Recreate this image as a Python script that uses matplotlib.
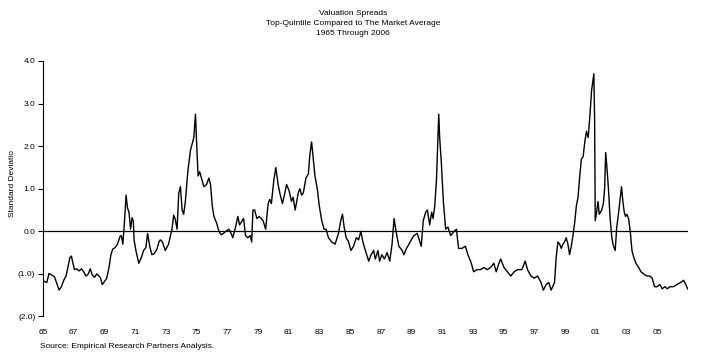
import matplotlib
matplotlib.use("Agg")
import matplotlib.pyplot as plt

# Valuation spread (standard deviations)
dates = [
    1965.00, 1965.10, 1965.25, 1965.39, 1965.55, 1965.75, 1965.92, 1966.05, 1966.20, 1966.35,
    1966.50, 1966.65, 1966.75, 1966.85, 1966.95, 1967.05, 1967.20, 1967.35, 1967.50, 1967.65,
    1967.80, 1967.95, 1968.08, 1968.20, 1968.35, 1968.50, 1968.65, 1968.75, 1968.86, 1969.00,
    1969.15, 1969.30, 1969.42, 1969.54, 1969.70, 1969.85, 1970.02, 1970.10, 1970.20, 1970.30,
    1970.41, 1970.50, 1970.60, 1970.70, 1970.80, 1970.88, 1970.93, 1971.05, 1971.24, 1971.40,
    1971.55, 1971.70, 1971.81, 1971.95, 1972.09, 1972.25, 1972.42, 1972.55, 1972.64, 1972.78,
    1972.96, 1973.18, 1973.30, 1973.40, 1973.51, 1973.60, 1973.73, 1973.84, 1973.95, 1974.06,
    1974.16, 1974.27, 1974.43, 1974.60, 1974.71, 1974.82, 1974.93, 1975.00, 1975.10, 1975.20,
    1975.36, 1975.47, 1975.65, 1975.80, 1975.91, 1976.02, 1976.13, 1976.30, 1976.46, 1976.60,
    1976.75, 1976.90, 1977.11, 1977.25, 1977.36, 1977.54, 1977.69, 1977.80, 1977.97, 1978.06,
    1978.19, 1978.34, 1978.50, 1978.59, 1978.67, 1978.78, 1978.93, 1979.07, 1979.22, 1979.33,
    1979.50, 1979.66, 1979.76, 1979.87, 1980.03, 1980.16, 1980.31, 1980.42, 1980.59, 1980.75,
    1980.86, 1981.03, 1981.18, 1981.29, 1981.42, 1981.62, 1981.73, 1981.84, 1981.95, 1982.12,
    1982.28, 1982.38, 1982.49, 1982.60, 1982.71, 1982.86, 1982.99, 1983.15, 1983.30, 1983.43,
    1983.59, 1983.80, 1984.02, 1984.24, 1984.39, 1984.50, 1984.61, 1984.74, 1984.90, 1985.05,
    1985.22, 1985.40, 1985.55, 1985.70, 1985.83, 1985.99, 1986.21, 1986.36, 1986.53, 1986.64,
    1986.81, 1986.92, 1987.07, 1987.23, 1987.41, 1987.58, 1987.73, 1987.86, 1987.99, 1988.17,
    1988.39, 1988.50, 1988.67, 1988.83, 1988.98, 1989.15, 1989.37, 1989.63, 1989.76, 1989.92,
    1990.03, 1990.18, 1990.31, 1990.40, 1990.51, 1990.62, 1990.68, 1990.77, 1990.83, 1990.94,
    1991.07, 1991.22, 1991.37, 1991.55, 1991.77, 1991.92, 1992.06, 1992.28, 1992.50, 1992.67,
    1992.89, 1993.04, 1993.26, 1993.48, 1993.70, 1993.92, 1994.14, 1994.36, 1994.51, 1994.69,
    1994.80, 1995.02, 1995.24, 1995.46, 1995.68, 1995.89, 1996.18, 1996.40, 1996.55, 1996.77,
    1996.99, 1997.21, 1997.43, 1997.58, 1997.76, 1997.93, 1998.09, 1998.31, 1998.42, 1998.53,
    1998.64, 1998.75, 1998.86, 1998.96, 1999.07, 1999.18, 1999.29, 1999.40, 1999.51, 1999.62,
    1999.73, 1999.84, 1999.95, 2000.06, 2000.17, 2000.28, 2000.39, 2000.50, 2000.61, 2000.72,
    2000.81, 2000.87, 2000.92, 2000.96, 2001.05, 2001.14, 2001.22, 2001.38, 2001.49, 2001.57,
    2001.64, 2001.71, 2001.82, 2001.93, 2002.04, 2002.15, 2002.26, 2002.36, 2002.47, 2002.58,
    2002.67, 2002.76, 2002.85, 2002.93, 2003.02, 2003.13, 2003.24, 2003.35, 2003.46, 2003.61,
    2003.79, 2003.94, 2004.11, 2004.33, 2004.51, 2004.67, 2004.82, 2004.99, 2005.17, 2005.32,
    2005.50, 2005.65, 2005.83, 2006.05, 2006.27, 2006.53, 2006.71, 2006.86, 2006.97,
]
spread = [
    -1.15, -1.18, -1.20, -0.99, -1.02, -1.07, -1.25, -1.38, -1.30, -1.15,
    -1.05, -0.80, -0.62, -0.58, -0.75, -0.90, -0.88, -0.93, -0.88, -0.95,
    -1.05, -1.00, -0.88, -1.02, -1.08, -1.00, -1.05, -1.10, -1.25, -1.18,
    -1.10, -0.85, -0.55, -0.42, -0.38, -0.30, -0.12, -0.10, -0.30, 0.20,
    0.85, 0.55, 0.45, 0.05, 0.32, 0.25, -0.20, -0.45, -0.75, -0.62,
    -0.45, -0.38, -0.05, -0.35, -0.55, -0.52, -0.42, -0.25, -0.20, -0.25,
    -0.45, -0.30, -0.10, 0.05, 0.38, 0.30, 0.05, 0.90, 1.05, 0.50,
    0.40, 0.70, 1.40, 1.90, 2.05, 2.20, 2.75, 2.10, 1.30, 1.40,
    1.20, 1.05, 1.10, 1.25, 1.10, 0.60, 0.35, 0.20, 0.00, -0.08,
    -0.05, 0.00, 0.05, -0.05, -0.15, 0.10, 0.35, 0.15, 0.25, 0.30,
    -0.10, -0.15, -0.10, -0.25, 0.50, 0.50, 0.30, 0.35, 0.30, 0.25,
    0.05, 0.65, 0.75, 0.65, 1.20, 1.50, 1.10, 0.90, 0.65, 0.90,
    1.10, 0.95, 0.70, 0.80, 0.50, 0.90, 1.00, 0.85, 0.90, 1.25,
    1.35, 1.80, 2.10, 1.70, 1.30, 1.00, 0.60, 0.25, 0.05, 0.05,
    -0.15, -0.25, -0.30, -0.05, 0.25, 0.40, 0.10, -0.15, -0.25, -0.45,
    -0.35, -0.15, -0.20, 0.00, -0.25, -0.45, -0.70, -0.55, -0.45, -0.65,
    -0.45, -0.70, -0.55, -0.65, -0.50, -0.70, -0.30, 0.30, 0.00, -0.35,
    -0.45, -0.55, -0.40, -0.30, -0.20, -0.10, -0.05, -0.35, 0.25, 0.45,
    0.50, 0.15, 0.45, 0.30, 0.60, 1.20, 1.80, 2.75, 2.20, 1.60,
    0.70, 0.05, 0.10, -0.10, 0.00, 0.05, -0.40, -0.40, -0.35, -0.55,
    -0.75, -0.95, -0.90, -0.90, -0.85, -0.90, -0.85, -0.75, -0.95, -0.75,
    -0.65, -0.85, -0.95, -1.05, -0.95, -0.90, -0.90, -0.70, -0.90, -1.05,
    -1.10, -1.05, -1.20, -1.38, -1.25, -1.20, -1.38, -1.20, -0.60, -0.25,
    -0.30, -0.40, -0.30, -0.25, -0.15, -0.30, -0.55, -0.35, -0.10, 0.20,
    0.60, 0.80, 1.30, 1.70, 1.75, 2.10, 2.35, 2.20, 2.70, 3.30,
    3.55, 3.70, 2.60, 0.25, 0.45, 0.70, 0.40, 0.50, 0.65, 1.00,
    1.85, 1.55, 1.00, 0.30, -0.15, -0.35, -0.45, 0.10, 0.40, 0.75,
    1.05, 0.70, 0.45, 0.35, 0.40, 0.30, 0.00, -0.45, -0.60, -0.75,
    -0.85, -0.95, -1.00, -1.05, -1.05, -1.10, -1.30, -1.30, -1.25, -1.35,
    -1.30, -1.35, -1.30, -1.30, -1.25, -1.20, -1.15, -1.25, -1.35,
]

x_ticks = list(range(1965, 2006, 2))
x_labels = [f"{y % 100:02d}" for y in x_ticks]
y_ticks = [-2, -1, 0, 1, 2, 3, 4]
y_labels = ["(2.0)", "(1.0)", "0.0", "1.0", "2.0", "3.0", "4.0"]

plt.rcParams["font.family"] = ["Liberation Sans", "DejaVu Sans"]

fig = plt.figure(figsize=(7.06, 3.59), dpi=100)
ax = fig.add_axes([0.0609, 0.1184, 0.9136, 0.7117])

ax.plot(dates, spread, color="black", lw=1.0)
ax.axhline(0, color="black", lw=0.9)

ax.set_xlim(1965, 2007)
ax.set_ylim(-2, 4)
ax.set_xticks(x_ticks)
ax.set_xticklabels(x_labels, fontsize=6)
ax.set_yticks(y_ticks)
ax.set_yticklabels(y_labels, fontsize=6)
ax.tick_params(axis="x", length=0, pad=9)
ax.tick_params(axis="y", length=3.5, width=0.8, pad=2)

for side in ["top", "right", "bottom"]:
    ax.spines[side].set_visible(False)
ax.spines["left"].set_linewidth(0.8)

fig.text(0.5, 0.972, "Valuation Spreads\nTop-Quintile Compared to The Market Average\n1965 Through 2006",
         ha="center", va="top", fontsize=6, linespacing=1.55)
fig.text(0.018, 0.49, "Standard Deviatio", rotation=90, ha="center", va="center", fontsize=6)
fig.text(0.057, 0.036, "Source: Empirical Research Partners Analysis.", ha="left", va="center", fontsize=6)

fig.savefig("out.png", dpi=100)
